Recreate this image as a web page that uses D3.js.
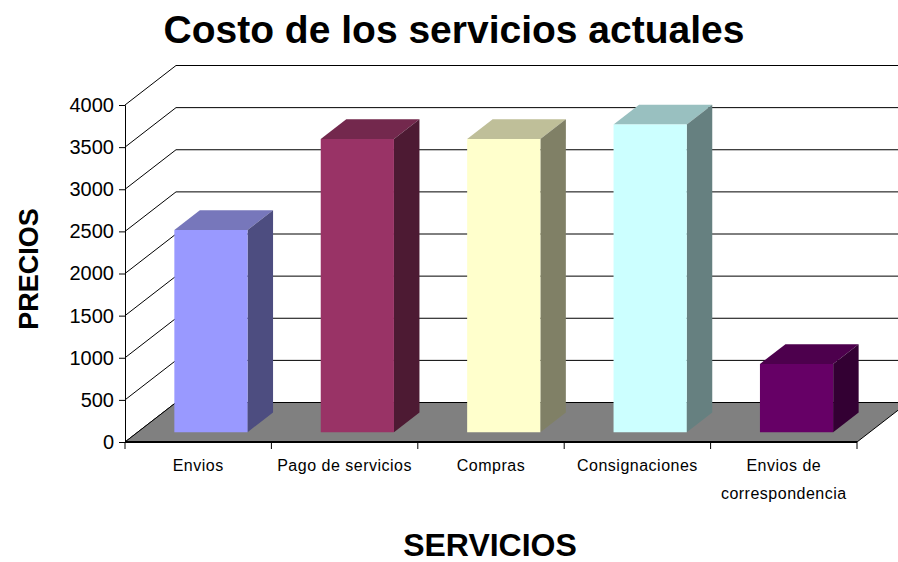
<!DOCTYPE html>
<html>
<head>
<meta charset="utf-8">
<script src="https://cdn.jsdelivr.net/npm/d3@7"></script>
<style>
  body { margin: 0; background: #fff; }
  svg text { font-family: "Liberation Sans", Arial, sans-serif; fill: #000; }
</style>
</head>
<body>
<svg id="chart" width="898" height="562"></svg>
<script>
// data
const categories = [['Envios'], ['Pago de servicios'], ['Compras'], ['Consignaciones'], ['Envios de', 'correspondencia']];
const values = [2400, 3480, 3480, 3650, 810];
const yTicks = [0, 500, 1000, 1500, 2000, 2500, 3000, 3500, 4000];
const fronts = ['#9999ff', '#993366', '#ffffcc', '#ccffff', '#660066'];
const sides  = ['#4d4d80', '#4d1a33', '#808066', '#668080', '#330033'];
const tops   = ['#7777bb', '#73284d', '#bfbf99', '#99c0c0', '#4d004d'];

const svg = d3.select('#chart');

// front plane of the plot box, and the depth offset of the 3d floor
const x0 = 125, x1 = 857;
const dx = 51, dy = -39.5;

const x = d3.scaleBand().domain(d3.range(categories.length)).range([x0, x1]);
const y = d3.scaleLinear().domain([0, 4000]).range([442, 105]);

// oblique projection: value v at depth fraction t
const P = (px, v, t) => [px + dx * t, y(v) + dy * t];

// left wall diagonals
svg.append('g').selectAll('line').data(yTicks).join('line')
    .attr('x1', x0).attr('y1', d => y(d))
    .attr('x2', x0 + dx).attr('y2', d => y(d) + dy)
    .attr('stroke', '#000').attr('stroke-width', 1);

// back wall gridlines
svg.append('g').selectAll('line').data(yTicks.filter(d => d > 0)).join('line')
    .attr('x1', x0 + dx).attr('y1', d => y(d) + dy)
    .attr('x2', x1 + dx).attr('y2', d => y(d) + dy)
    .attr('stroke', '#000').attr('stroke-width', 1);

// floor
const floor = [P(x0, 0, 0), P(x1, 0, 0), P(x1, 0, 1), P(x0, 0, 1)];
svg.append('path')
    .attr('d', 'M' + floor.join('L') + 'Z')
    .attr('fill', '#808080')
    .attr('stroke', '#000').attr('stroke-width', 1);

// bars: half the band wide, from depth 0.25 to 0.75
const bw = x.bandwidth() * 0.5;
const bars = svg.append('g').selectAll('g').data(values).join('g');

bars.append('path') // top
    .attr('d', (v, i) => {
      const l = x(i) + x.bandwidth() / 2 - bw / 2, r = l + bw;
      return 'M' + [P(l, v, 0.25), P(r, v, 0.25), P(r, v, 0.75), P(l, v, 0.75)].join('L') + 'Z';
    })
    .attr('fill', (v, i) => tops[i]);

bars.append('path') // side
    .attr('d', (v, i) => {
      const r = x(i) + x.bandwidth() / 2 + bw / 2;
      return 'M' + [P(r, 0, 0.25), P(r, v, 0.25), P(r, v, 0.75), P(r, 0, 0.75)].join('L') + 'Z';
    })
    .attr('fill', (v, i) => sides[i]);

bars.append('path') // front
    .attr('d', (v, i) => {
      const l = x(i) + x.bandwidth() / 2 - bw / 2, r = l + bw;
      return 'M' + [P(l, 0, 0.25), P(l, v, 0.25), P(r, v, 0.25), P(r, 0, 0.25)].join('L') + 'Z';
    })
    .attr('fill', (v, i) => fronts[i]);

// y axis
const yAxis = svg.append('g')
    .attr('transform', `translate(${x0},0)`)
    .call(d3.axisLeft(y).tickValues(yTicks).tickSize(6).tickPadding(5).tickFormat(d3.format('d')));
yAxis.selectAll('text').style('font-size', '20px');
yAxis.selectAll('line, path').attr('stroke', '#000');

// x axis line + boundary ticks
svg.append('line')
    .attr('x1', x0).attr('x2', x1).attr('y1', y(0)).attr('y2', y(0))
    .attr('stroke', '#000').attr('stroke-width', 2);
svg.append('g').selectAll('line').data(d3.range(categories.length + 1)).join('line')
    .attr('x1', i => x0 + i * x.step()).attr('x2', i => x0 + i * x.step())
    .attr('y1', y(0)).attr('y2', y(0) + 7)
    .attr('stroke', '#000');

// category labels
const labels = svg.append('g').selectAll('text').data(categories).join('text')
    .attr('x', (d, i) => x(i) + x.bandwidth() / 2)
    .attr('y', 471)
    .attr('text-anchor', 'middle')
    .style('font-size', '16px')
    .style('letter-spacing', '0.5px');
labels.selectAll('tspan').data(d => d).join('tspan')
    .attr('x', function () { return this.parentNode.getAttribute('x'); })
    .attr('dy', (d, j) => j ? 28 : 0)
    .text(d => d);

// titles
svg.append('text')
    .attr('x', 454).attr('y', 43)
    .attr('text-anchor', 'middle')
    .style('font-size', '39px').style('font-weight', 'bold')
    .text('Costo de los servicios actuales');

svg.append('text')
    .attr('x', 490).attr('y', 556)
    .attr('text-anchor', 'middle')
    .style('font-size', '32px').style('font-weight', 'bold')
    .text('SERVICIOS');

svg.append('text')
    .attr('transform', 'translate(38,269) rotate(-90)')
    .attr('text-anchor', 'middle')
    .style('font-size', '27px').style('font-weight', 'bold')
    .text('PRECIOS');
</script>
</body>
</html>
